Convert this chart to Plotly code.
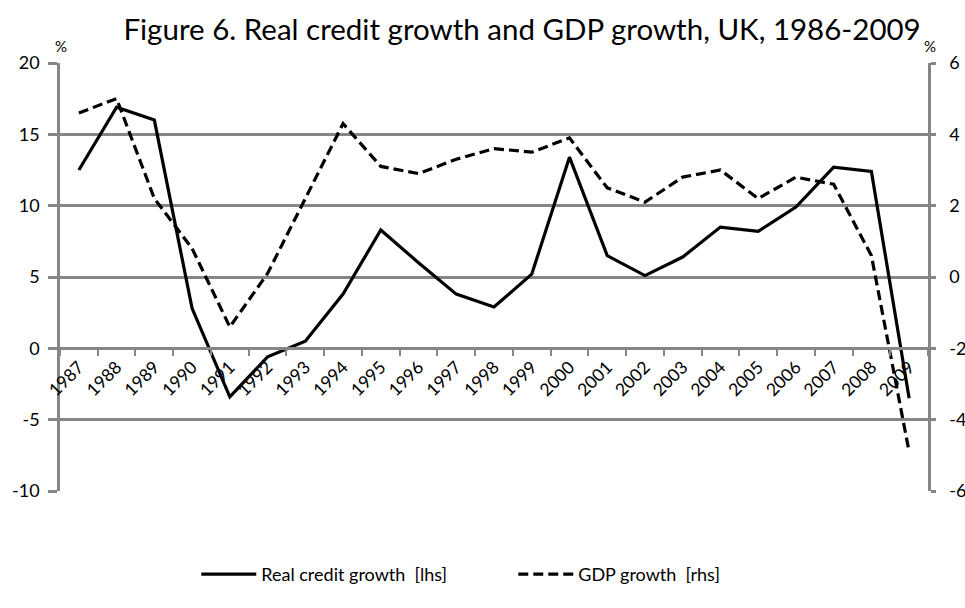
import plotly.graph_objects as go

years = [str(y) for y in range(1987, 2010)]
credit_growth = [12.5, 16.9, 16.0, 2.8, -3.4, -0.6, 0.5, 3.8, 8.3, 6.0, 3.8, 2.9, 5.2,
                 13.4, 6.5, 5.1, 6.4, 8.5, 8.2, 9.9, 12.7, 12.4, -3.5]
gdp_growth = [4.6, 5.0, 2.2, 0.8, -1.4, 0.1, 2.2, 4.3, 3.1, 2.9, 3.3, 3.6, 3.5,
              3.9, 2.5, 2.1, 2.8, 3.0, 2.2, 2.8, 2.6, 0.6, -4.9]
left_ticks = [-10, -5, 0, 5, 10, 15, 20]
left_labels = ["-10", "-5", "0", "5", "10", "15", "20"]
right_ticks = [-6, -4, -2, 0, 2, 4, 6]
right_labels = ["-6", "-4", "-2", "0", "2", "4", "6"]

title_text = "Figure 6. Real credit growth and GDP growth, UK, 1986-2009"
grid = "#868686"
font_family = "Lato, 'Open Sans', sans-serif"

fig = go.Figure()
fig.add_trace(go.Scatter(x=years, y=credit_growth, mode="lines", name="Real credit growth  [lhs]",
                         line=dict(color="black", width=3.2), yaxis="y"))
fig.add_trace(go.Scatter(x=years, y=gdp_growth, mode="lines", name="GDP growth  [rhs]",
                         line=dict(color="black", width=3.2, dash="10px,5px"), yaxis="y2"))

fig.update_layout(
    width=965, height=608,
    paper_bgcolor="white", plot_bgcolor="white",
    margin=dict(l=60, r=37, t=63, b=117, autoexpand=False),
    font=dict(family=font_family, size=18, color="black"),
    title=dict(text=title_text, x=0.541, xanchor="center", y=0.952, yanchor="middle",
               font=dict(size=29.5)),
    xaxis=dict(type="category", range=[-0.5, 22.5], anchor="free", position=1/3,
               showline=True, linecolor=grid, linewidth=2.5, ticks="outside",
               tickson="boundaries", ticklen=6, tickcolor=grid, tickwidth=2,
               tickangle=-45, showgrid=False, tickfont=dict(size=17.5), automargin=False),
    yaxis=dict(range=[-10, 20], tickvals=left_ticks, ticktext=left_labels, showgrid=True,
               gridcolor=grid, gridwidth=2.5, showline=True, linecolor=grid, linewidth=2.5,
               ticks="outside", ticklen=9, tickcolor=grid, tickwidth=2.5, zeroline=False,
               ticklabelstandoff=5, automargin=False),
    yaxis2=dict(range=[-6, 6], tickvals=right_ticks, ticktext=right_labels, overlaying="y",
                side="right", showgrid=False, showline=True, linecolor=grid, linewidth=2.5,
                ticks="outside", ticklen=5, tickcolor=grid, tickwidth=2.5, zeroline=False,
                ticklabelstandoff=10, automargin=False),
    legend=dict(orientation="h", x=0.157, xanchor="left", y=-0.195, yanchor="middle",
                font=dict(size=18), itemwidth=55, entrywidth=247, entrywidthmode="pixels"),
    showlegend=True,
    annotations=[
        dict(text="%", xref="paper", yref="paper", x=0.0, y=1.0, yshift=6, xshift=1,
             showarrow=False, font=dict(size=15), xanchor="center", yanchor="bottom"),
        dict(text="%", xref="paper", yref="paper", x=1.0, y=1.0, yshift=6, xshift=2,
             showarrow=False, font=dict(size=15), xanchor="center", yanchor="bottom"),
    ],
)

fig.write_html("out.html", config={"displayModeBar": False},
               post_script="document.body.style.margin='0';")
